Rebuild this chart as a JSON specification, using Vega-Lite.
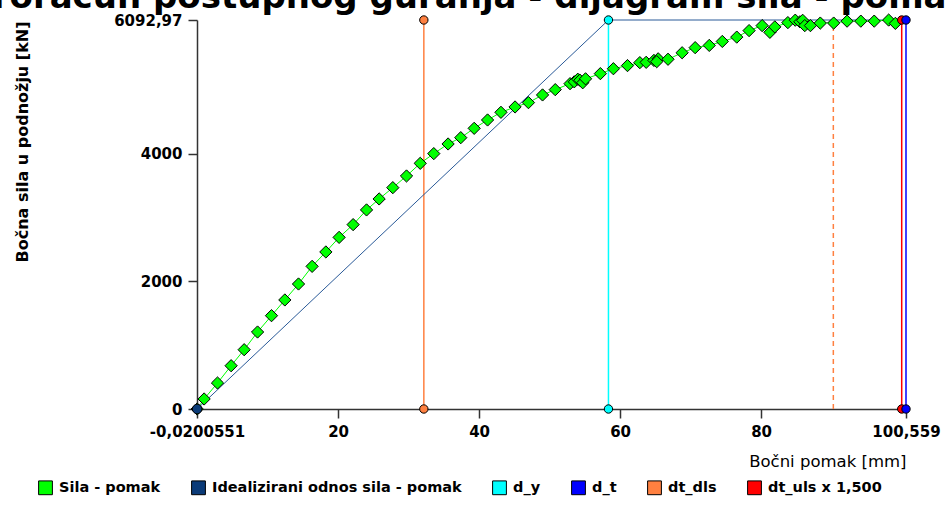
{
  "$schema": "https://vega.github.io/schema/vega-lite/v6.json",
  "width": 709,
  "height": 389,
  "autosize": {"type": "none"},
  "padding": {"left": 197, "top": 20, "right": 41, "bottom": 114},
  "background": "white",
  "title": {
    "text": "Proračun postupnog guranja - dijagram sila - pomak",
    "font": "DejaVu Sans",
    "fontSize": 34,
    "fontWeight": "bold",
    "color": "black",
    "anchor": "middle",
    "frame": "group",
    "dx": -83,
    "dy": 7,
    "offset": 4
  },
  "config": {
    "view": {"stroke": null},
    "font": "DejaVu Sans",
    "axis": {
      "grid": false,
      "domainColor": "#333333",
      "domainWidth": 1.5,
      "tickColor": "#333333",
      "tickWidth": 1.5,
      "tickSize": 9,
      "labelFont": "DejaVu Sans",
      "labelFontSize": 15,
      "labelFontWeight": "bold",
      "labelColor": "black",
      "labelFlush": false,
      "labelOverlap": false,
      "titleColor": "black",
      "titleFont": "DejaVu Sans"
    }
  },
  "datasets": {
    "sila": [
      {"pomak": 0, "sila": 0, "serija": "Sila - pomak"},
      {"pomak": 0.99, "sila": 157, "serija": "Sila - pomak"},
      {"pomak": 2.89, "sila": 407, "serija": "Sila - pomak"},
      {"pomak": 4.82, "sila": 678, "serija": "Sila - pomak"},
      {"pomak": 6.67, "sila": 929, "serija": "Sila - pomak"},
      {"pomak": 8.57, "sila": 1206, "serija": "Sila - pomak"},
      {"pomak": 10.55, "sila": 1462, "serija": "Sila - pomak"},
      {"pomak": 12.44, "sila": 1708, "serija": "Sila - pomak"},
      {"pomak": 14.38, "sila": 1958, "serija": "Sila - pomak"},
      {"pomak": 16.31, "sila": 2234, "serija": "Sila - pomak"},
      {"pomak": 18.26, "sila": 2460, "serija": "Sila - pomak"},
      {"pomak": 20.14, "sila": 2688, "serija": "Sila - pomak"},
      {"pomak": 22.13, "sila": 2888, "serija": "Sila - pomak"},
      {"pomak": 24.03, "sila": 3118, "serija": "Sila - pomak"},
      {"pomak": 25.82, "sila": 3290, "serija": "Sila - pomak"},
      {"pomak": 27.76, "sila": 3467, "serija": "Sila - pomak"},
      {"pomak": 29.7, "sila": 3650, "serija": "Sila - pomak"},
      {"pomak": 31.65, "sila": 3848, "serija": "Sila - pomak"},
      {"pomak": 33.57, "sila": 4000, "serija": "Sila - pomak"},
      {"pomak": 35.6, "sila": 4151, "serija": "Sila - pomak"},
      {"pomak": 37.4, "sila": 4250, "serija": "Sila - pomak"},
      {"pomak": 39.3, "sila": 4396, "serija": "Sila - pomak"},
      {"pomak": 41.2, "sila": 4527, "serija": "Sila - pomak"},
      {"pomak": 43.1, "sila": 4647, "serija": "Sila - pomak"},
      {"pomak": 45.1, "sila": 4731, "serija": "Sila - pomak"},
      {"pomak": 47.0, "sila": 4799, "serija": "Sila - pomak"},
      {"pomak": 49.0, "sila": 4919, "serija": "Sila - pomak"},
      {"pomak": 50.8, "sila": 5002, "serija": "Sila - pomak"},
      {"pomak": 52.9, "sila": 5096, "serija": "Sila - pomak"},
      {"pomak": 53.5, "sila": 5125, "serija": "Sila - pomak"},
      {"pomak": 54.0, "sila": 5165, "serija": "Sila - pomak"},
      {"pomak": 54.3, "sila": 5150, "serija": "Sila - pomak"},
      {"pomak": 54.7, "sila": 5110, "serija": "Sila - pomak"},
      {"pomak": 55.1, "sila": 5172, "serija": "Sila - pomak"},
      {"pomak": 57.2, "sila": 5253, "serija": "Sila - pomak"},
      {"pomak": 59.05, "sila": 5330, "serija": "Sila - pomak"},
      {"pomak": 61.05, "sila": 5379, "serija": "Sila - pomak"},
      {"pomak": 62.8, "sila": 5425, "serija": "Sila - pomak"},
      {"pomak": 63.7, "sila": 5430, "serija": "Sila - pomak"},
      {"pomak": 64.8, "sila": 5460, "serija": "Sila - pomak"},
      {"pomak": 65.4, "sila": 5485, "serija": "Sila - pomak"},
      {"pomak": 65.2, "sila": 5440, "serija": "Sila - pomak"},
      {"pomak": 66.8, "sila": 5478, "serija": "Sila - pomak"},
      {"pomak": 68.8, "sila": 5580, "serija": "Sila - pomak"},
      {"pomak": 70.65, "sila": 5660, "serija": "Sila - pomak"},
      {"pomak": 72.65, "sila": 5695, "serija": "Sila - pomak"},
      {"pomak": 74.5, "sila": 5757, "serija": "Sila - pomak"},
      {"pomak": 76.55, "sila": 5825, "serija": "Sila - pomak"},
      {"pomak": 78.3, "sila": 5927, "serija": "Sila - pomak"},
      {"pomak": 80.15, "sila": 6005, "serija": "Sila - pomak"},
      {"pomak": 81.25, "sila": 5900, "serija": "Sila - pomak"},
      {"pomak": 81.95, "sila": 5985, "serija": "Sila - pomak"},
      {"pomak": 83.8, "sila": 6052, "serija": "Sila - pomak"},
      {"pomak": 84.85, "sila": 6090, "serija": "Sila - pomak"},
      {"pomak": 85.5, "sila": 6065, "serija": "Sila - pomak"},
      {"pomak": 85.9, "sila": 6088, "serija": "Sila - pomak"},
      {"pomak": 86.2, "sila": 6005, "serija": "Sila - pomak"},
      {"pomak": 87.0, "sila": 6005, "serija": "Sila - pomak"},
      {"pomak": 88.4, "sila": 6045, "serija": "Sila - pomak"},
      {"pomak": 90.3, "sila": 6045, "serija": "Sila - pomak"},
      {"pomak": 92.2, "sila": 6075, "serija": "Sila - pomak"},
      {"pomak": 94.15, "sila": 6075, "serija": "Sila - pomak"},
      {"pomak": 96.05, "sila": 6075, "serija": "Sila - pomak"},
      {"pomak": 98.1, "sila": 6092, "serija": "Sila - pomak"},
      {"pomak": 99.05, "sila": 6040, "serija": "Sila - pomak"}
    ],
    "ideal": [
      {"pomak": 0, "sila": 0, "serija": "Idealizirani odnos sila - pomak"},
      {"pomak": 58.35, "sila": 6092.97, "serija": "Idealizirani odnos sila - pomak"},
      {"pomak": 100.559, "sila": 6092.97, "serija": "Idealizirani odnos sila - pomak"}
    ],
    "vert": [
      {"pomak": 32.16, "sila": 0, "serija": "dt_dls"},
      {"pomak": 32.16, "sila": 6092.97, "serija": "dt_dls"},
      {"pomak": 58.35, "sila": 0, "serija": "d_y"},
      {"pomak": 58.35, "sila": 6092.97, "serija": "d_y"},
      {"pomak": 99.95, "sila": 0, "serija": "dt_uls x 1,500"},
      {"pomak": 99.95, "sila": 6092.97, "serija": "dt_uls x 1,500"},
      {"pomak": 100.559, "sila": 0, "serija": "d_t"},
      {"pomak": 100.559, "sila": 6092.97, "serija": "d_t"}
    ],
    "crtkano": [
      {"pomak": 90.25, "sila": 0},
      {"pomak": 90.25, "sila": 6000}
    ]
  },
  "layer": [
    {
      "data": {"name": "vert"},
      "transform": [{"filter": "datum.serija == 'dt_dls'"}],
      "mark": {"type": "line", "strokeWidth": 1.5, "color": "#ff8040"},
      "encoding": {
        "x": {"field": "pomak", "type": "quantitative", "scale": {"domain": [-0.0200551, 100.559], "nice": false, "zero": false},
          "axis": {"values": [-0.0200551, 20, 40, 60, 80, 100.559], "labelExpr": "replace(toString(datum.value), '.', ',')", "labelPadding": 6,
            "title": "Bočni pomak [mm]", "titleAnchor": "end", "titleFontSize": 16.5, "titleFontWeight": "normal", "titlePadding": 14}},
        "y": {"field": "sila", "type": "quantitative", "scale": {"domain": [0, 6092.97], "nice": false, "zero": false},
          "axis": {"values": [0, 2000, 4000, 6092.97], "labelExpr": "replace(toString(datum.value), '.', ',')", "labelPadding": 6,
            "title": "Bočna sila u podnožju [kN]", "titleFontSize": 16, "titleFontWeight": "bold", "titleAngle": -90, "titleX": -175, "titleY": 1, "titleAlign": "right", "titleBaseline": "middle"}},
        "order": {"field": "sila"}
      }
    },
    {
      "data": {"name": "vert"},
      "transform": [{"filter": "datum.serija == 'd_y'"}],
      "mark": {"type": "line", "strokeWidth": 1.5, "color": "#00ffff"},
      "encoding": {"x": {"field": "pomak", "type": "quantitative"}, "y": {"field": "sila", "type": "quantitative"}, "order": {"field": "sila"}}
    },
    {
      "data": {"name": "vert"},
      "transform": [{"filter": "datum.serija == 'dt_uls x 1,500'"}],
      "mark": {"type": "line", "strokeWidth": 1.5, "color": "#ff0000"},
      "encoding": {"x": {"field": "pomak", "type": "quantitative"}, "y": {"field": "sila", "type": "quantitative"}, "order": {"field": "sila"}}
    },
    {
      "data": {"name": "vert"},
      "transform": [{"filter": "datum.serija == 'd_t'"}],
      "mark": {"type": "line", "strokeWidth": 1.5, "color": "#0000ff"},
      "encoding": {"x": {"field": "pomak", "type": "quantitative"}, "y": {"field": "sila", "type": "quantitative"}, "order": {"field": "sila"}}
    },
    {
      "data": {"name": "crtkano"},
      "mark": {"type": "line", "color": "#ff8040", "strokeWidth": 1.5, "strokeDash": [5, 4]},
      "encoding": {"x": {"field": "pomak", "type": "quantitative"}, "y": {"field": "sila", "type": "quantitative"}, "order": {"field": "sila"}}
    },
    {
      "data": {"name": "ideal"},
      "mark": {"type": "line", "strokeWidth": 1, "color": "#2a5a98"},
      "encoding": {"x": {"field": "pomak", "type": "quantitative"}, "y": {"field": "sila", "type": "quantitative"}}
    },
    {
      "data": {"name": "sila"},
      "mark": {"type": "line", "strokeWidth": 1, "color": "#00ff00"},
      "encoding": {"x": {"field": "pomak", "type": "quantitative"}, "y": {"field": "sila", "type": "quantitative"}, "order": {"field": "pomak"}}
    },
    {
      "data": {"name": "sila"},
      "mark": {"type": "point", "shape": "diamond", "filled": true, "size": 150, "stroke": "black", "strokeWidth": 1, "opacity": 1},
      "encoding": {
        "x": {"field": "pomak", "type": "quantitative"},
        "y": {"field": "sila", "type": "quantitative"},
        "color": {"field": "serija", "type": "nominal",
          "scale": {"domain": ["Sila - pomak", "Idealizirani odnos sila - pomak", "d_y", "d_t", "dt_dls", "dt_uls x 1,500"],
                    "range": ["#00ff00", "#0b3b78", "#00ffff", "#0000ff", "#ff8040", "#ff0000"]},
          "legend": {
            "orient": "none",
            "legendX": -159,
            "legendY": 460,
            "direction": "horizontal",
            "title": null,
            "symbolType": "square",
            "symbolSize": 190,
            "symbolStrokeColor": "black",
            "symbolStrokeWidth": 1,
            "labelFont": "DejaVu Sans",
            "labelFontSize": 14.5,
            "labelFontWeight": "bold",
            "labelColor": "black",
            "labelLimit": 400,
            "columnPadding": 28,
            "labelOffset": 6,
            "encode": {"symbols": {"update": {"stroke": {"value": "black"}, "strokeWidth": {"value": 1}, "shape": {"value": "square"}, "opacity": {"value": 1}}}}
          }}
      }
    },
    {
      "data": {"name": "vert"},
      "mark": {"type": "point", "shape": "circle", "filled": true, "size": 70, "stroke": "black", "strokeWidth": 1, "opacity": 1},
      "encoding": {
        "x": {"field": "pomak", "type": "quantitative"},
        "y": {"field": "sila", "type": "quantitative"},
        "color": {"field": "serija", "type": "nominal"}
      }
    },
    {
      "data": {"name": "ideal"},
      "transform": [{"filter": "datum.sila == 0"}],
      "mark": {"type": "point", "shape": "circle", "filled": true, "size": 90, "stroke": "black", "strokeWidth": 1, "opacity": 1},
      "encoding": {
        "x": {"field": "pomak", "type": "quantitative"},
        "y": {"field": "sila", "type": "quantitative"},
        "color": {"field": "serija", "type": "nominal"}
      }
    }
  ]
}
